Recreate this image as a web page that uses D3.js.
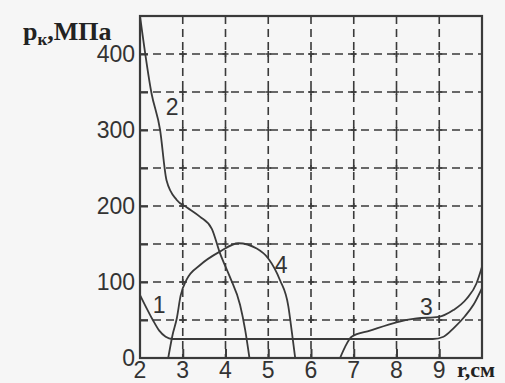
<!DOCTYPE html>
<html>
<head>
<meta charset="utf-8">
<script src="https://cdn.jsdelivr.net/npm/d3@7"></script>
<style>
  html, body { margin: 0; padding: 0; background: #f6f6f6; }
  svg { display: block; }
</style>
</head>
<body>
<svg id="chart" width="505" height="383"></svg>
<script>
// Data (r in cm, p in MPa)
var xTicks = [2, 3, 4, 5, 6, 7, 8, 9];
var yTicks = [0, 100, 200, 300, 400];
var yGrid = [50, 100, 150, 200, 250, 300, 350, 400];

var curve1 = [[2, 83], [2.15, 66], [2.3, 50], [2.45, 36], [2.6, 28], [2.75, 25], [5, 25], [8.85, 25],
              [9.1, 28], [9.35, 40], [9.6, 55], [9.8, 70], [10, 92]];
var curve2 = [[2, 450], [2.27, 348], [2.47, 300], [2.62, 234], [2.86, 208], [3.1, 198], [3.4, 186],
              [3.68, 170], [3.87, 138], [4.1, 107], [4.34, 70], [4.46, 37], [4.56, 0]];
var curve3 = [[6.68, 0], [6.8, 15], [6.95, 28], [7.38, 36], [8.0, 47], [8.47, 52], [8.98, 54],
              [9.33, 63], [9.64, 78], [9.87, 98], [10, 120]];
var curve4 = [[2.66, 0], [2.76, 30], [2.86, 52], [2.95, 82], [3.09, 103], [3.4, 122], [3.87, 140],
              [4.3, 151], [4.73, 144], [5.0, 131], [5.27, 103], [5.47, 68], [5.55, 35], [5.63, 0]];

var curveLabels = [
  { text: "1", r: 2.45, p: 70 },
  { text: "2", r: 2.75, p: 330 },
  { text: "3", r: 8.7, p: 68 },
  { text: "4", r: 5.3, p: 123 }
];

var svg = d3.select("#chart");

// plot frame in pixels
var plotLeft = 140, plotRight = 482, plotTop = 16, plotBottom = 358;

var x = d3.scaleLinear().domain([2, 10]).range([plotLeft, plotRight]);
var y = d3.scaleLinear().domain([0, 450]).range([plotBottom, plotTop]);

var ink = "#3a3a3a";

svg.append("defs").append("clipPath")
    .attr("id", "plotClip")
    .append("rect")
    .attr("x", plotLeft).attr("y", plotTop)
    .attr("width", plotRight - plotLeft).attr("height", plotBottom - plotTop);

// dashed grid
svg.append("g")
    .selectAll("line")
    .data(yGrid)
    .enter()
    .append("line")
    .attr("x1", plotLeft).attr("x2", plotRight)
    .attr("y1", function (d) { return y(d); })
    .attr("y2", function (d) { return y(d); })
    .style("stroke", ink)
    .style("stroke-width", 1.6)
    .style("stroke-dasharray", "8,5");

svg.append("g")
    .selectAll("line")
    .data(xTicks.slice(1))
    .enter()
    .append("line")
    .attr("y1", plotTop).attr("y2", plotBottom)
    .attr("x1", function (d) { return x(d); })
    .attr("x2", function (d) { return x(d); })
    .style("stroke", ink)
    .style("stroke-width", 1.6)
    .style("stroke-dasharray", "8,5");

// little crosses where grid lines meet
var cross = [];
xTicks.slice(1).forEach(function (a) { yGrid.forEach(function (b) { cross.push([a, b]); }); });
svg.append("g")
    .selectAll("path")
    .data(cross)
    .enter()
    .append("path")
    .attr("d", function (d) {
        var cx = x(d[0]), cy = y(d[1]);
        return "M" + (cx - 3) + "," + cy + "H" + (cx + 3) + "M" + cx + "," + (cy - 3) + "V" + (cy + 3);
    })
    .style("stroke", ink)
    .style("stroke-width", 1.6);

// axes: ticks drawn inside the frame, labels outside
var yAxis = d3.axisLeft(y)
    .tickValues(yGrid)
    .tickSize(-8)
    .tickFormat("");
svg.append("g")
    .attr("transform", "translate(" + plotLeft + ",0)")
    .call(yAxis)
    .call(function (g) { g.select(".domain").remove(); })
    .selectAll("line").style("stroke", ink).style("stroke-width", 2);

svg.append("g")
    .selectAll("text")
    .data(yTicks)
    .enter()
    .append("text")
    .attr("x", plotLeft - 5)
    .attr("y", function (d) { return y(d); })
    .attr("dy", "0.36em")
    .attr("text-anchor", "end")
    .style("font-family", "Liberation Sans, Arial, sans-serif")
    .style("font-size", "23px")
    .style("fill", "#333")
    .text(function (d) { return d; });

var xAxis = d3.axisBottom(x)
    .tickValues(xTicks.slice(1))
    .tickSize(-9)
    .tickFormat("");
svg.append("g")
    .attr("transform", "translate(0," + plotBottom + ")")
    .call(xAxis)
    .call(function (g) { g.select(".domain").remove(); })
    .selectAll("line").style("stroke", ink).style("stroke-width", 2);

svg.append("g")
    .selectAll("text")
    .data(xTicks)
    .enter()
    .append("text")
    .attr("x", function (d) { return x(d); })
    .attr("y", plotBottom + 20)
    .attr("text-anchor", "middle")
    .style("font-family", "Liberation Sans, Arial, sans-serif")
    .style("font-size", "23px")
    .style("fill", "#333")
    .text(function (d) { return d; });

// curves
var line = d3.line()
    .x(function (d) { return x(d[0]); })
    .y(function (d) { return y(d[1]); })
    .curve(d3.curveMonotoneX);

svg.append("g")
    .attr("clip-path", "url(#plotClip)")
    .selectAll("path")
    .data([curve1, curve2, curve3, curve4])
    .enter()
    .append("path")
    .attr("d", line)
    .style("fill", "none")
    .style("stroke", ink)
    .style("stroke-width", 1.8);

svg.append("g")
    .selectAll("text")
    .data(curveLabels)
    .enter()
    .append("text")
    .attr("x", function (d) { return x(d.r); })
    .attr("y", function (d) { return y(d.p); })
    .attr("dy", "0.36em")
    .attr("text-anchor", "middle")
    .style("font-family", "Liberation Sans, Arial, sans-serif")
    .style("font-size", "23px")
    .style("fill", "#333")
    .text(function (d) { return d.text; });

// frame
svg.append("rect")
    .attr("x", plotLeft).attr("y", plotTop)
    .attr("width", plotRight - plotLeft).attr("height", plotBottom - plotTop)
    .style("fill", "none")
    .style("stroke", ink)
    .style("stroke-width", 2.2);

// axis titles
var yTitle = svg.append("text")
    .attr("x", 23)
    .attr("y", 40)
    .style("font-family", "Liberation Serif, Times New Roman, serif")
    .style("font-size", "26px")
    .style("font-weight", "bold")
    .style("fill", "#222");
yTitle.append("tspan").text("p");
yTitle.append("tspan").attr("dy", 5).style("font-size", "17px").text("к");
yTitle.append("tspan").attr("dy", -5).text(",МПа");

svg.append("text")
    .attr("x", 457)
    .attr("y", 377)
    .style("font-family", "Liberation Serif, Times New Roman, serif")
    .style("font-size", "22px")
    .style("font-weight", "bold")
    .style("fill", "#222")
    .text("r,см");
</script>
</body>
</html>
